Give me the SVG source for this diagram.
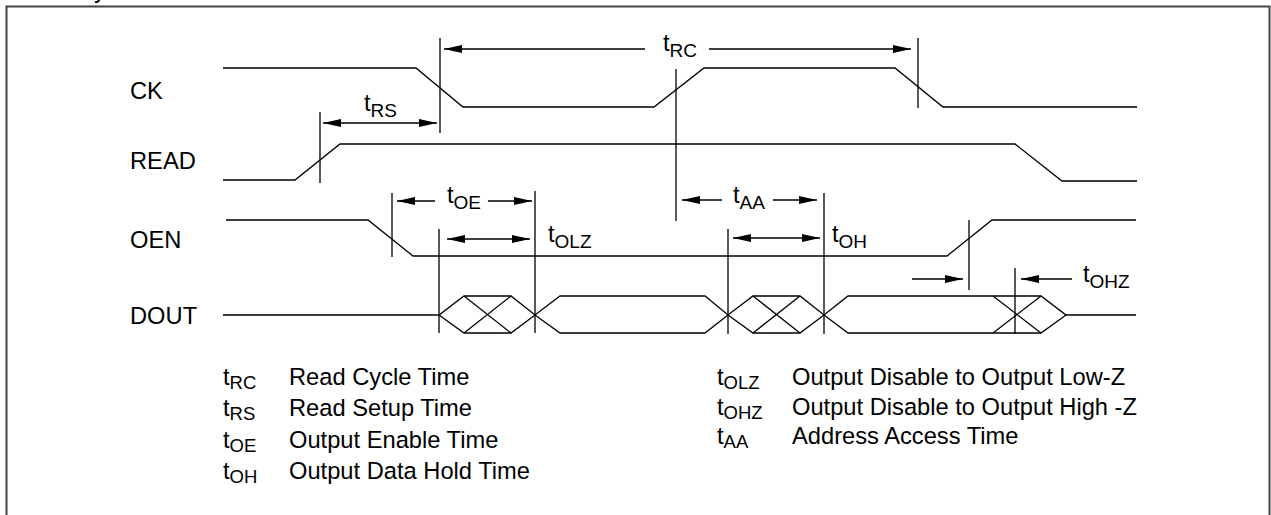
<svg xmlns="http://www.w3.org/2000/svg" width="1271" height="515" viewBox="0 0 1271 515">
<style>
  text{font-family:"Liberation Sans",Arial,Helvetica,sans-serif;fill:#000}
  .lbl{font-size:23.7px}
  .sub{font-size:19px}
  .lgs{font-size:18.5px}
  .w{fill:none;stroke:#000;stroke-width:1.3;stroke-linejoin:miter}
  .ref{stroke:#000;stroke-width:1.3;fill:none}
  .arr2{stroke:#000;stroke-width:1.3;fill:none;marker-end:url(#ah);marker-start:url(#ah)}
  .arr1{stroke:#000;stroke-width:1.3;fill:none;marker-end:url(#ah)}
</style>
<defs>
  <marker id="ah" viewBox="0 0 18 8" refX="18" refY="4" markerWidth="18" markerHeight="8" markerUnits="userSpaceOnUse" orient="auto-start-reverse">
    <path d="M0,0 L18,4 L0,8 z" fill="#000"/>
  </marker>
</defs>
<rect width="1271" height="515" fill="#fff"/>
<text x="94" y="-2" class="lbl">y</text>
<rect id="frame" x="6.5" y="6.5" width="1263" height="520" fill="none" stroke="#444" stroke-width="2"/>

<g id="sig-ck">
  <text x="130" y="99" class="lbl">CK</text>
  <path class="w" d="M223,68 H416 L463,107 H654 L704,68 H895 L943,107 H1137"/>
</g>
<g id="sig-read">
  <text x="130" y="169" class="lbl">READ</text>
  <path class="w" d="M223,180 H295 L340,144 H1015 L1062,181 H1137"/>
</g>
<g id="sig-oen">
  <text x="130" y="248" class="lbl">OEN</text>
  <path class="w" d="M226,220 H368 L413,256 H947 L992,220 H1136"/>
</g>
<g id="sig-dout">
  <text x="130" y="324" class="lbl">DOUT</text>
  <path class="w" d="M223,315 H439 L464,296 H511 L535,315 L560,296 H705 L728,315 L753,296 H800 L824,315 L848,296 H1041 L1066,315 H1136"/>
  <path class="w" d="M439,315 L464,333 H511 L535,315 L560,333 H705 L728,315 L753,333 H800 L824,315 L848,333 H1041 L1066,315"/>
  <path class="w" d="M464,296 L511,333 M464,333 L511,296 M753,296 L800,333 M753,333 L800,296 M993,296 L1041,333 M993,333 L1041,296"/>
</g>

<g id="connectors">
  <path class="ref" d="M320,112 V183 M440,38 V133 M918,38 V108 M676,69 V221 M392,193 V257 M535,191 V333 M439,229 V333 M728,229 V334 M824,193 V334 M969,220 V290 M1015,268 V334"/>
  <line class="arr2" x1="323" y1="123" x2="437" y2="123"/>
  <line class="arr1" x1="645" y1="49" x2="444" y2="49"/>
  <line class="arr1" x1="709" y1="49" x2="911" y2="49"/>
  <line class="arr1" x1="435" y1="201" x2="397" y2="201"/>
  <line class="arr1" x1="488" y1="201" x2="532" y2="201"/>
  <line class="arr2" x1="447" y1="239" x2="530" y2="239"/>
  <line class="arr1" x1="722" y1="200" x2="682" y2="200"/>
  <line class="arr1" x1="773" y1="200" x2="817" y2="200"/>
  <line class="arr2" x1="733" y1="238" x2="820" y2="238"/>
  <line class="arr1" x1="912" y1="279" x2="963" y2="279"/>
  <line class="arr1" x1="1072" y1="279" x2="1021" y2="279"/>
</g>

<g id="timing-labels">
  <text x="663" y="51" class="lbl">t<tspan class="sub" dy="6">RC</tspan></text>
  <text x="364" y="111" class="lbl">t<tspan class="sub" dy="6">RS</tspan></text>
  <text x="447" y="203" class="lbl">t<tspan class="sub" dy="6">OE</tspan></text>
  <text x="548" y="242" class="lbl">t<tspan class="sub" dy="6">OLZ</tspan></text>
  <text x="733" y="203" class="lbl">t<tspan class="sub" dy="6">AA</tspan></text>
  <text x="832" y="242" class="lbl">t<tspan class="sub" dy="6">OH</tspan></text>
  <text x="1083" y="282" class="lbl">t<tspan class="sub" dy="6">OHZ</tspan></text>
</g>

<g id="legend-left">
  <text x="223" y="385" class="lbl">t<tspan class="lgs" dy="4">RC</tspan></text>
  <text x="289" y="385" class="lbl">Read Cycle Time</text>
  <text x="223" y="416" class="lbl">t<tspan class="lgs" dy="4">RS</tspan></text>
  <text x="289" y="416" class="lbl">Read Setup Time</text>
  <text x="223" y="448" class="lbl">t<tspan class="lgs" dy="4">OE</tspan></text>
  <text x="289" y="448" class="lbl">Output Enable Time</text>
  <text x="223" y="479" class="lbl">t<tspan class="lgs" dy="4">OH</tspan></text>
  <text x="289" y="479" class="lbl">Output Data Hold Time</text>
</g>
<g id="legend-right">
  <text x="717" y="385" class="lbl">t<tspan class="lgs" dy="4">OLZ</tspan></text>
  <text x="792" y="385" class="lbl">Output Disable to Output Low-Z</text>
  <text x="717" y="415" class="lbl">t<tspan class="lgs" dy="4">OHZ</tspan></text>
  <text x="792" y="415" class="lbl">Output Disable to Output High -Z</text>
  <text x="717" y="444" class="lbl">t<tspan class="lgs" dy="4">AA</tspan></text>
  <text x="792" y="444" class="lbl">Address Access Time</text>
</g>
</svg>
